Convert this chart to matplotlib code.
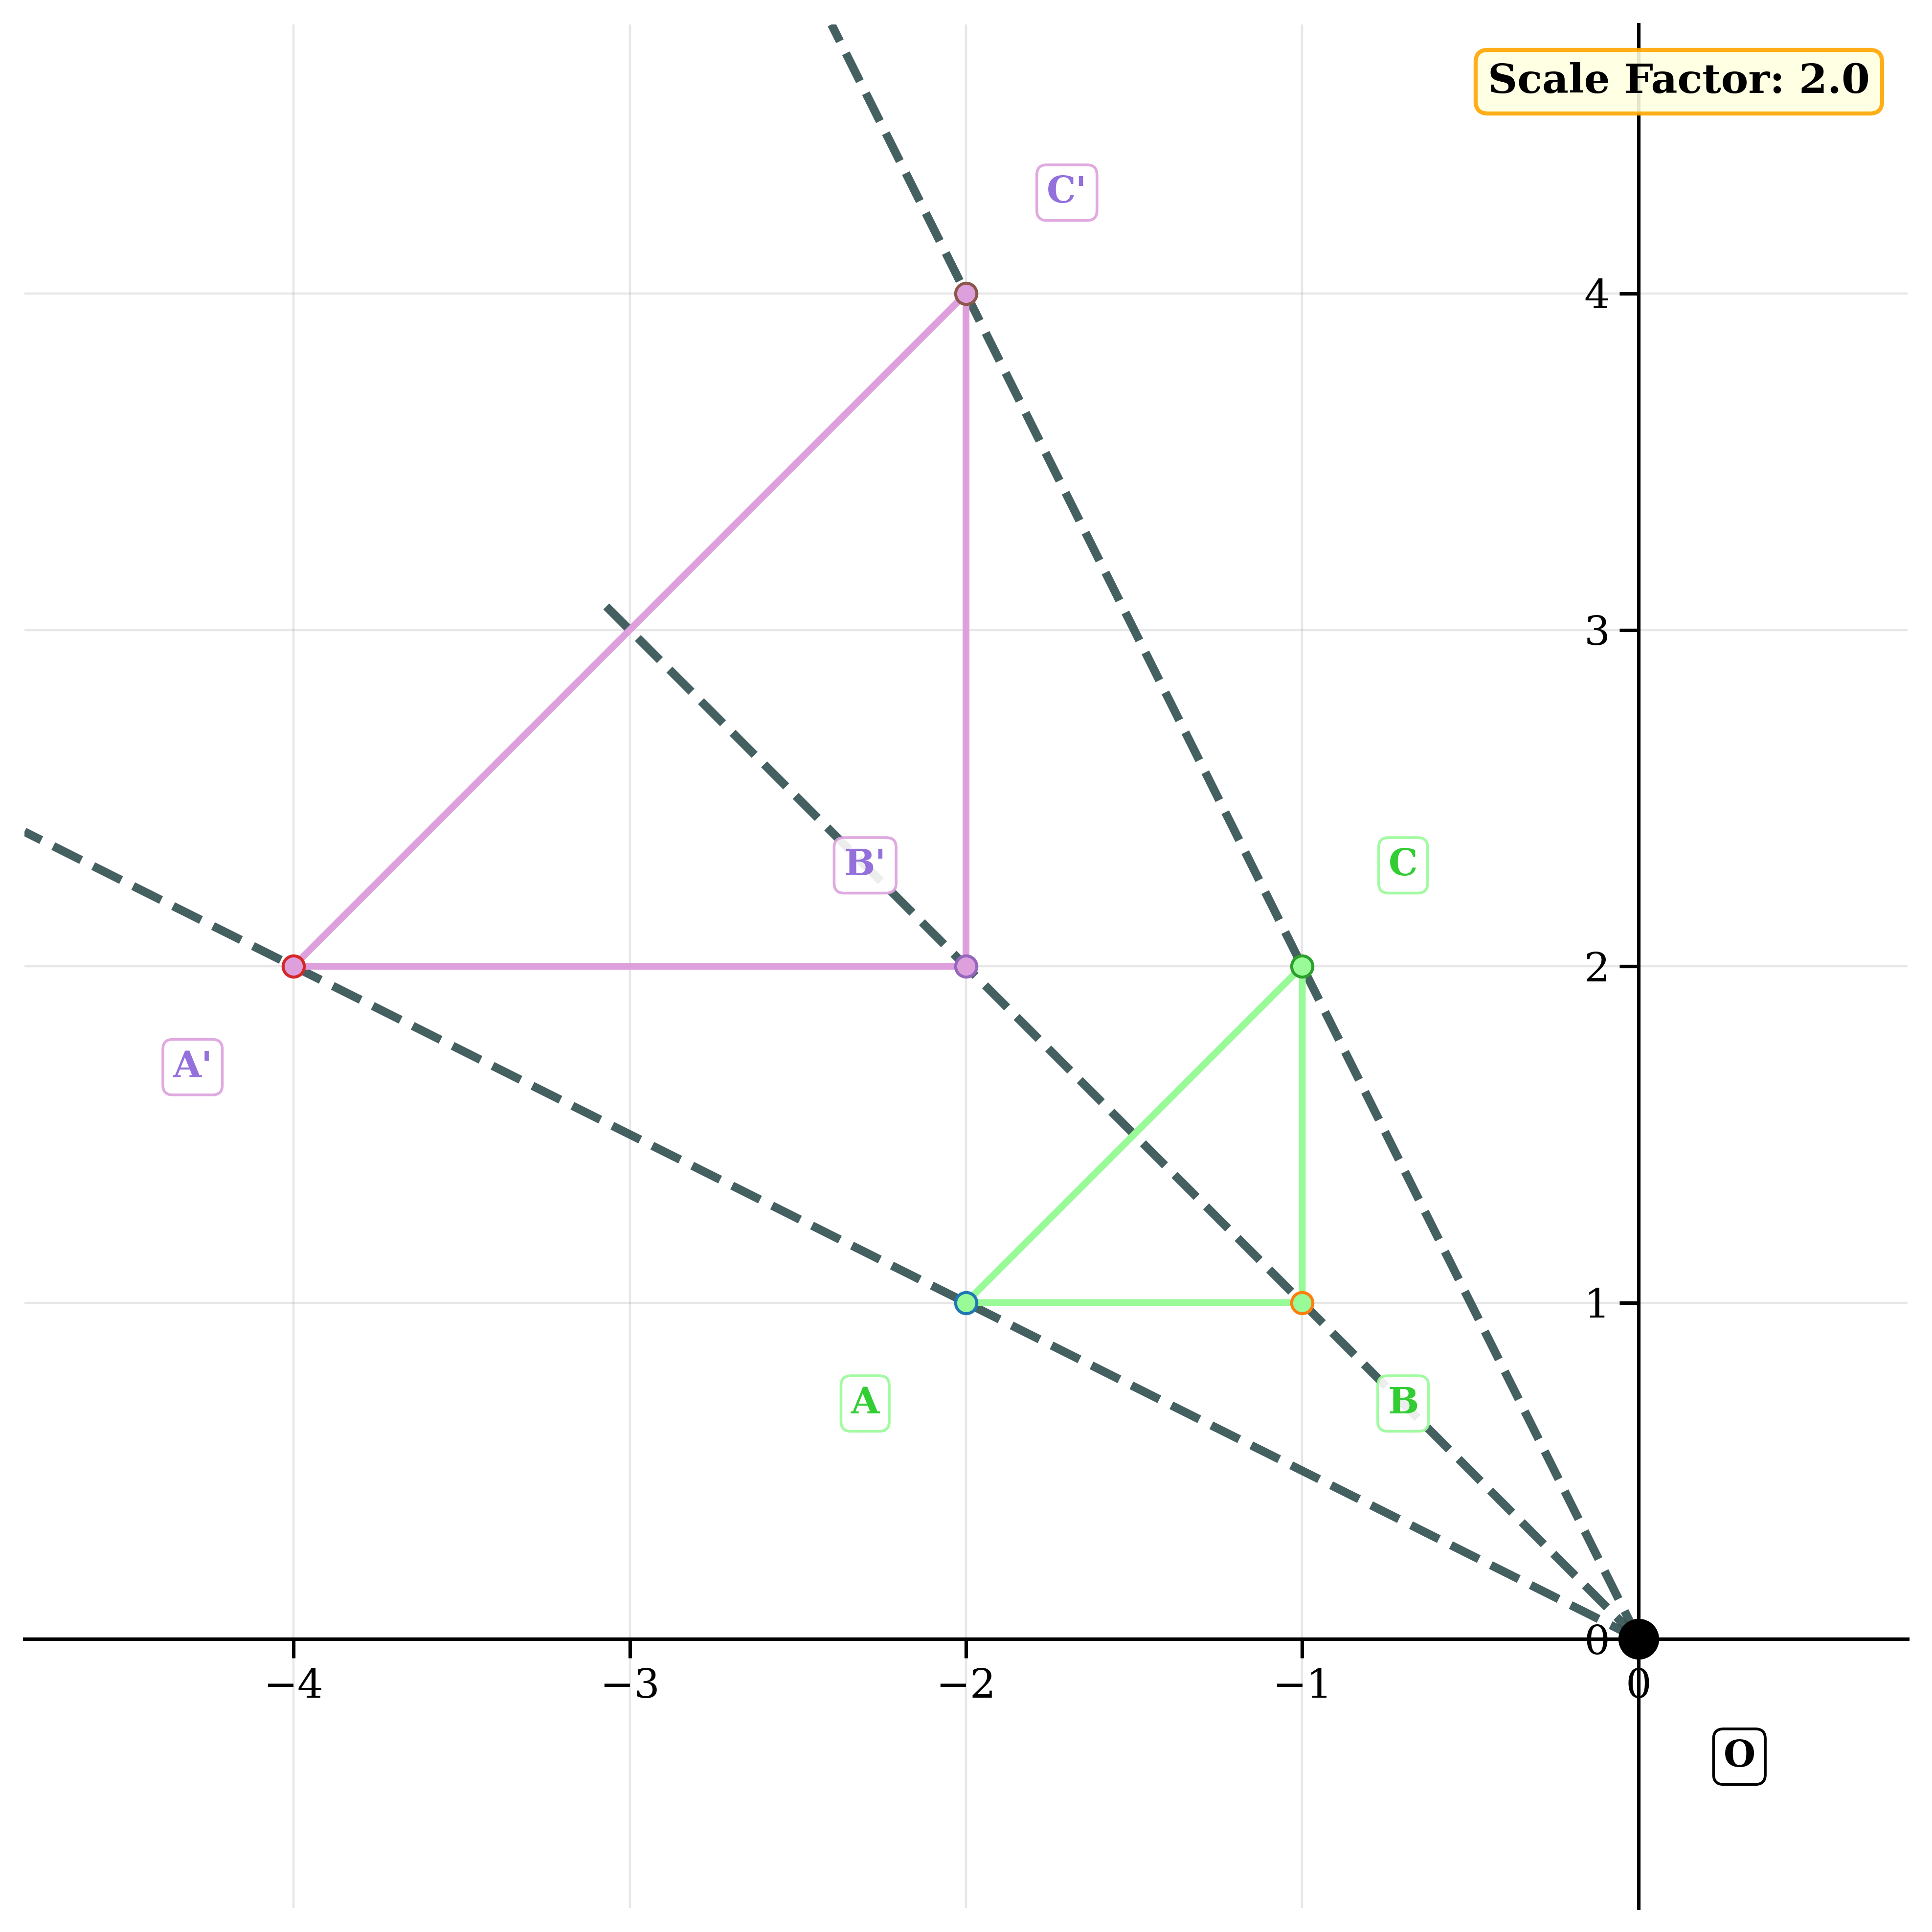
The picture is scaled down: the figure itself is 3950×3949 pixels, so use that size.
import matplotlib
matplotlib.use('Agg')
import matplotlib.pyplot as plt

plt.rcParams['font.family'] = ['DejaVu Serif']

# ---- data ----
scale_factor = 2.0
center_x, center_y = 0.0, 0.0
orig_names = ['A', 'B', 'C']
orig_x = [-2.0, -1.0, -1.0]
orig_y = [1.0, 1.0, 2.0]
image_names = ["A'", "B'", "C'"]
xticks = [-4, -3, -2, -1, 0]
yticks = [0, 1, 2, 3, 4]
xlim = (-4.8, 0.8)
ylim = (-0.8, 4.8)

# dilation of the original triangle about the centre
img_x = [center_x + scale_factor * (x - center_x) for x in orig_x]
img_y = [center_y + scale_factor * (y - center_y) for y in orig_y]

# ---- style ----
ray_extension = [1.2, 1.535, 1.2]
orig_label_off = [(-0.3, -0.3), (0.3, -0.3), (0.3, 0.3)]
img_label_off = [(-0.3, -0.3), (-0.3, 0.3), (0.3, 0.3)]
orig_edge = ['#1f77b4', '#ff7f0e', '#2ca02c']
img_edge = ['#d62728', '#9467bd', '#8c564b']

DPI = 400
fig = plt.figure(figsize=(3950 / DPI, 3949 / DPI), dpi=DPI)
ax = fig.add_axes([50 / 3950, 49 / 3949, 3850 / 3950, 3850 / 3949])

# rays from the centre through the image vertices
for px, py, t in zip(img_x, img_y, ray_extension):
    ex = center_x + t * (px - center_x)
    ey = center_y + t * (py - center_y)
    ax.plot([center_x, ex], [center_y, ey], linestyle='--', color='#2F4F4F',
            alpha=0.9, lw=3.1, zorder=2)

# triangles
ax.plot(orig_x + orig_x[:1], orig_y + orig_y[:1], color='palegreen', lw=2.5, zorder=3)
ax.plot(img_x + img_x[:1], img_y + img_y[:1], color='plum', lw=2.5, zorder=3)

# vertices
for x, y, ec in zip(orig_x, orig_y, orig_edge):
    ax.plot(x, y, 'o', markerfacecolor='palegreen', markeredgecolor=ec,
            markersize=7.8, markeredgewidth=1.1, zorder=4)
for x, y, ec in zip(img_x, img_y, img_edge):
    ax.plot(x, y, 'o', markerfacecolor='plum', markeredgecolor=ec,
            markersize=7.8, markeredgewidth=1.1, zorder=4)

# centre of dilation
ax.plot(center_x, center_y, 'o', color='black', markersize=14, zorder=6)

# labels
for name, x, y, (dx, dy) in zip(orig_names, orig_x, orig_y, orig_label_off):
    ax.text(x + dx, y + dy, name, fontsize=13.5, fontweight='bold', color='limegreen',
            ha='center', va='center', zorder=7,
            bbox=dict(boxstyle='round,pad=0.27', facecolor='white',
                      edgecolor='palegreen', alpha=0.9))
for name, x, y, (dx, dy) in zip(image_names, img_x, img_y, img_label_off):
    ax.text(x + dx, y + dy, name, fontsize=13.5, fontweight='bold', color='mediumpurple',
            ha='center', va='center', zorder=7,
            bbox=dict(boxstyle='round,pad=0.27', facecolor='white',
                      edgecolor='plum', alpha=0.9))
ax.text(center_x + 0.3, center_y - 0.35, 'O', fontsize=13.5, fontweight='bold',
        color='black', ha='center', va='center', zorder=7,
        bbox=dict(boxstyle='round,pad=0.27', facecolor='white', edgecolor='black'))

ax.text(0.98, 0.98, f'Scale Factor: {scale_factor}', transform=ax.transAxes,
        fontsize=15, fontweight='bold', ha='right', va='top', zorder=8,
        bbox=dict(boxstyle='round,pad=0.3', facecolor='lightyellow',
                  edgecolor='orange', lw=1.5, alpha=0.9))

# axes styling
ax.set_xlim(*xlim)
ax.set_ylim(*ylim)
ax.set_xticks(xticks)
ax.set_yticks(yticks)
ax.spines['left'].set_position('zero')
ax.spines['bottom'].set_position('zero')
ax.spines['right'].set_visible(False)
ax.spines['top'].set_visible(False)
for s in ('left', 'bottom'):
    ax.spines[s].set_linewidth(1.3)
ax.tick_params(axis='both', which='major', length=7, width=1.3, labelsize=15)
ax.grid(True, alpha=0.3)
ax.set_axisbelow(True)

fig.savefig('out.png', dpi=DPI)
